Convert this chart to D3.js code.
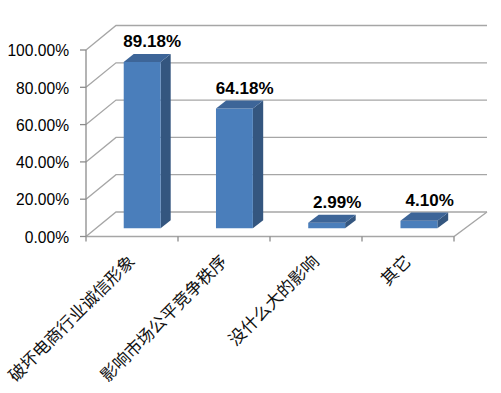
<!DOCTYPE html>
<html>
<head>
<meta charset="utf-8">
<script src="https://cdn.jsdelivr.net/npm/d3@7/dist/d3.min.js"></script>
<style>
  body { margin: 0; background: #fff; }
  svg { display: block; }
</style>
</head>
<body>
<script>
// data
const categories = ["破坏电商行业诚信形象", "影响市场公平竞争秩序", "没什么大的影响", "其它"];
const values = [0.8918, 0.6418, 0.0299, 0.0410];
const valueLabels = ["89.18%", "64.18%", "2.99%", "4.10%"];
const yTicks = [0, 0.2, 0.4, 0.6, 0.8, 1.0];

const width = 501;
const height = 393;

// front plane / back plane of the 3d box
const front = { x0: 86, x1: 454 };
const back = { x0: 116, x1: 487 };
const depthY = 24.5;

const y = d3.scaleLinear().domain([0, 1]).range([236.5, 50]);
const u = d3.scaleBand()
  .domain(categories)
  .range([0, 1])
  .paddingInner(0.6)
  .paddingOuter(0.3);
const uTick = d3.scaleLinear().domain([0, categories.length]).range([0, 1]);

// project (u along x, value, depth 0..1) to screen
function pt(uu, v, d) {
  const xf = front.x0 + uu * (front.x1 - front.x0);
  const xb = back.x0 + uu * (back.x1 - back.x0);
  return [xf + d * (xb - xf), y(v) - d * depthY];
}

const svg = d3.select("body").append("svg")
  .attr("width", width)
  .attr("height", height);

const grid = svg.append("g")
  .attr("stroke", "#a6a6a6")
  .attr("stroke-width", 1.3)
  .attr("fill", "none");

// back wall + left wall lines
yTicks.forEach(function (t) {
  const a = pt(0, t, 0), b = pt(0, t, 1), c = pt(1, t, 1);
  grid.append("path").attr("d", d3.line()([a, b, c]));
});

// floor
grid.append("path").attr("d", d3.line()([pt(0, 0, 0), pt(1, 0, 0), pt(1, 0, 1)]));

// left axis
const axis = svg.append("g").attr("stroke", "#8c8c8c").attr("stroke-width", 1.3);
axis.append("line")
  .attr("x1", front.x0).attr("x2", front.x0)
  .attr("y1", y(0)).attr("y2", y(1));
yTicks.forEach(function (t) {
  axis.append("line")
    .attr("x1", front.x0 - 6).attr("x2", front.x0)
    .attr("y1", y(t)).attr("y2", y(t));
});
d3.range(categories.length + 1).forEach(function (i) {
  const p = pt(uTick(i), 0, 0);
  axis.append("line")
    .attr("x1", p[0]).attr("x2", p[0])
    .attr("y1", p[1]).attr("y2", p[1] + 5);
});

svg.append("g").selectAll("text")
  .data(yTicks)
  .enter().append("text")
  .attr("x", 69)
  .attr("y", function (d) { return y(d); })
  .attr("dy", "0.4em")
  .attr("text-anchor", "end")
  .attr("font-family", "Liberation Sans, Arial, sans-serif")
  .attr("font-size", 15.6)
  .attr("fill", "#000")
  .text(function (d) { return (d * 100).toFixed(2) + "%"; });

// bars
const d0 = 0.335, d1 = 0.665;
const bars = svg.append("g").selectAll("g")
  .data(categories)
  .enter().append("g");

bars.each(function (c, i) {
  const g = d3.select(this);
  const a = u(c), b = u(c) + u.bandwidth();
  const v = values[i];
  // side
  g.append("path")
    .attr("fill", "#34567f")
    .attr("d", d3.line()([pt(b, 0, d0), pt(b, 0, d1), pt(b, v, d1), pt(b, v, d0)]) + "Z");
  // front
  g.append("path")
    .attr("fill", "#4a7ebb")
    .attr("d", d3.line()([pt(a, 0, d0), pt(b, 0, d0), pt(b, v, d0), pt(a, v, d0)]) + "Z");
  // top
  g.append("path")
    .attr("fill", "#3d6598")
    .attr("d", d3.line()([pt(a, v, d0), pt(b, v, d0), pt(b, v, d1), pt(a, v, d1)]) + "Z");

  const lp = pt((a + b) / 2, v, d1);
  g.append("text")
    .attr("x", lp[0])
    .attr("y", lp[1] - 7)
    .attr("text-anchor", "middle")
    .attr("font-family", "Liberation Sans, Arial, sans-serif")
    .attr("font-weight", "bold")
    .attr("font-size", 17)
    .attr("fill", "#000")
    .attr("stroke", "#fff")
    .attr("stroke-width", 2)
    .attr("paint-order", "stroke")
    .text(valueLabels[i]);
});

// category labels
svg.append("g").selectAll("text")
  .data(categories)
  .enter().append("text")
  .attr("transform", function (c) {
    const p = pt(u(c) + u.bandwidth() / 2, 0, 0);
    return "translate(" + (p[0] + 4) + "," + (p[1] + 26) + ") rotate(-45)";
  })
  .attr("text-anchor", "end")
  .attr("font-family", "Noto Sans CJK SC, sans-serif")
  .attr("font-size", 17)
  .attr("fill", "#111")
  .text(function (d) { return d; });
</script>
</body>
</html>
